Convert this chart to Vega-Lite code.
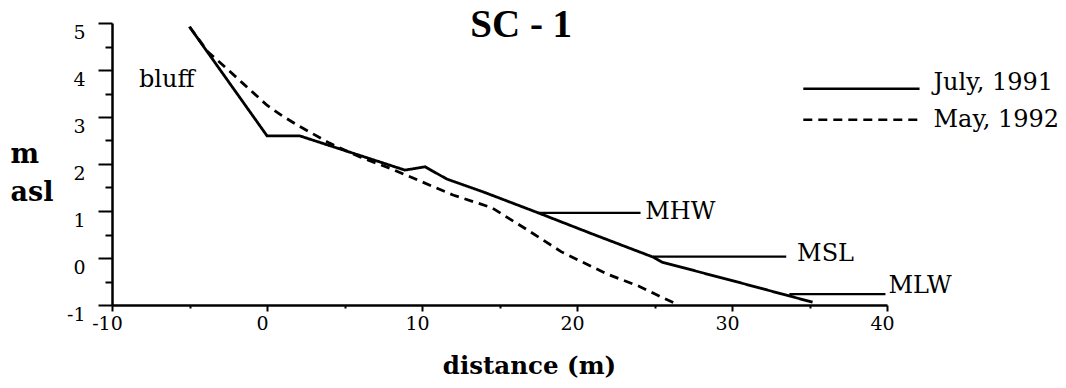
{
  "$schema": "https://vega.github.io/schema/vega-lite/v6.json",
  "width": 775,
  "height": 282,
  "autosize": {"type": "none"},
  "padding": {"left": 112, "top": 23, "right": 179, "bottom": 83},
  "background": "white",
  "config": {"view": {"stroke": null}, "font": "DejaVu Serif"},
  "datasets": {
    "profile": [
      {"series": "July, 1991", "x": -5, "y": 4.92},
      {"series": "July, 1991", "x": 0, "y": 2.6},
      {"series": "July, 1991", "x": 2.1, "y": 2.6},
      {"series": "July, 1991", "x": 8.9, "y": 1.87},
      {"series": "July, 1991", "x": 10.2, "y": 1.94},
      {"series": "July, 1991", "x": 11.6, "y": 1.68},
      {"series": "July, 1991", "x": 14, "y": 1.4},
      {"series": "July, 1991", "x": 17.5, "y": 0.96},
      {"series": "July, 1991", "x": 21, "y": 0.51},
      {"series": "July, 1991", "x": 24.9, "y": 0.02},
      {"series": "July, 1991", "x": 25.5, "y": -0.09},
      {"series": "July, 1991", "x": 30, "y": -0.48},
      {"series": "July, 1991", "x": 35.2, "y": -0.94},
      {"series": "May, 1992", "x": -5, "y": 4.92},
      {"series": "May, 1992", "x": -3.8, "y": 4.38},
      {"series": "May, 1992", "x": -3, "y": 4.15},
      {"series": "May, 1992", "x": -1.5, "y": 3.7},
      {"series": "May, 1992", "x": 0, "y": 3.25},
      {"series": "May, 1992", "x": 1, "y": 3.02},
      {"series": "May, 1992", "x": 2, "y": 2.82},
      {"series": "May, 1992", "x": 4, "y": 2.45},
      {"series": "May, 1992", "x": 6, "y": 2.15},
      {"series": "May, 1992", "x": 8, "y": 1.9},
      {"series": "May, 1992", "x": 10, "y": 1.62},
      {"series": "May, 1992", "x": 12, "y": 1.34},
      {"series": "May, 1992", "x": 14.5, "y": 1.07},
      {"series": "May, 1992", "x": 16.5, "y": 0.66},
      {"series": "May, 1992", "x": 19, "y": 0.13},
      {"series": "May, 1992", "x": 22, "y": -0.35},
      {"series": "May, 1992", "x": 24, "y": -0.6},
      {"series": "May, 1992", "x": 25.5, "y": -0.84},
      {"series": "May, 1992", "x": 26.3, "y": -0.96}
    ],
    "tides": [
      {"level": "MHW", "x1": 17.5, "x2": 24.1, "y": 0.96},
      {"level": "MSL", "x1": 24.9, "x2": 33.5, "y": 0.03},
      {"level": "MLW", "x1": 33.7, "x2": 39.9, "y": -0.77}
    ],
    "labels": [
      {"label": "bluff", "x": -8.26, "y": 3.64},
      {"label": "MHW", "x": 24.4, "y": 0.83},
      {"label": "MSL", "x": 34.2, "y": -0.064},
      {"label": "MLW", "x": 40.1, "y": -0.745},
      {"label": "July, 1991", "x": 43.0, "y": 3.574},
      {"label": "May, 1992", "x": 43.0, "y": 2.787}
    ],
    "heading": [
      {"label": "SC - 1", "x": 16.4, "y": 4.70}
    ],
    "key": [
      {"series": "July, 1991", "x": 34.6, "y": 3.6},
      {"series": "July, 1991", "x": 42.1, "y": 3.6},
      {"series": "May, 1992", "x": 34.6, "y": 2.94},
      {"series": "May, 1992", "x": 42.1, "y": 2.94}
    ]
  },
  "layer": [
    {
      "data": {"name": "profile"},
      "mark": {"type": "line", "color": "black", "strokeWidth": 2.8, "clip": false},
      "encoding": {
        "x": {
          "field": "x", "type": "quantitative",
          "scale": {"domain": [-10, 40], "nice": false, "zero": false},
          "axis": {
            "orient": "bottom",
            "values": [-10, 0, 10, 20, 30, 40],
            "labelExpr": "datum.value < 0 ? '-' + abs(datum.value) : '' + datum.value",
            "grid": false,
            "domainColor": "black", "domainWidth": 2.5,
            "tickColor": "black", "tickWidth": 2, "tickSize": 6,
            "labelFont": "DejaVu Serif", "labelFontSize": 19, "labelColor": "black",
            "labelPadding": 3, "labelOffset": -5, "labelFlush": false, "labelOverlap": false,
            "title": "distance (m)",
            "titleFont": "DejaVu Serif", "titleFontWeight": "bold", "titleFontSize": 24.5,
            "titleColor": "black", "titleAlign": "center", "titleBaseline": "alphabetic",
            "titleX": 417, "titleY": 68
          }
        },
        "y": {
          "field": "y", "type": "quantitative",
          "scale": {"domain": [-1, 5], "nice": false, "zero": false},
          "axis": {
            "orient": "left",
            "values": [-1, 0, 1, 2, 3, 4, 5],
            "labelExpr": "datum.value < 0 ? '-' + abs(datum.value) : '' + datum.value",
            "grid": false,
            "domainColor": "black", "domainWidth": 2.5,
            "tickColor": "black", "tickWidth": 2, "tickSize": 14,
            "labelFont": "DejaVu Serif", "labelFontSize": 19, "labelColor": "black",
            "labelPadding": 13, "labelBaseline": "top", "labelFlush": false, "labelOverlap": false,
            "encode": {"labels": {"update": {"baseline": {"signal": "datum.value === -1 ? 'middle' : 'top'"}}}},
            "title": ["m", "asl"],
            "titleAngle": 0, "titleAlign": "left", "titleBaseline": "alphabetic",
            "titleX": -102, "titleY": 139, "titleLineHeight": 38,
            "titleFont": "DejaVu Serif", "titleFontWeight": "bold", "titleFontSize": 27,
            "titleColor": "black"
          }
        },
        "strokeDash": {
          "field": "series", "type": "nominal",
          "scale": {"domain": ["July, 1991", "May, 1992"], "range": [[1, 0], [9, 6]]},
          "legend": null
        }
      }
    },
    {
      "data": {"name": "tides"},
      "mark": {"type": "rule", "color": "black", "strokeWidth": 2.2, "clip": false},
      "encoding": {
        "x": {
          "field": "x1", "type": "quantitative",
          "axis": {
            "orient": "bottom", "values": [-5, 5, 15, 25, 35],
            "labels": false, "domain": false, "grid": false, "title": null,
            "tickSize": 3, "tickWidth": 2, "tickColor": "black"
          }
        },
        "x2": {"field": "x2"},
        "y": {
          "field": "y", "type": "quantitative",
          "axis": {
            "orient": "left", "values": [-0.5, 0.5, 1.5, 2.5, 3.5, 4.5],
            "labels": false, "domain": false, "grid": false, "title": null,
            "tickSize": 7, "tickWidth": 2, "tickColor": "black"
          }
        }
      }
    },
    {
      "data": {"name": "key"},
      "mark": {"type": "line", "color": "black", "strokeWidth": 2.6, "clip": false},
      "encoding": {
        "x": {"field": "x", "type": "quantitative", "axis": null},
        "y": {"field": "y", "type": "quantitative", "axis": null},
        "strokeDash": {"field": "series", "type": "nominal", "legend": null}
      }
    },
    {
      "data": {"name": "labels"},
      "mark": {"type": "text", "font": "DejaVu Serif", "fontSize": 24, "color": "black", "align": "left", "baseline": "alphabetic", "clip": false},
      "encoding": {
        "x": {"field": "x", "type": "quantitative", "axis": null},
        "y": {"field": "y", "type": "quantitative", "axis": null},
        "text": {"field": "label", "type": "nominal"}
      }
    },
    {
      "data": {"name": "heading"},
      "mark": {"type": "text", "font": "Liberation Serif", "fontSize": 39, "fontWeight": "bold", "color": "black", "align": "center", "baseline": "alphabetic", "clip": false},
      "encoding": {
        "x": {"field": "x", "type": "quantitative", "axis": null},
        "y": {"field": "y", "type": "quantitative", "axis": null},
        "text": {"field": "label", "type": "nominal"}
      }
    }
  ],
  "resolve": {"axis": {"x": "independent", "y": "independent"}}
}
